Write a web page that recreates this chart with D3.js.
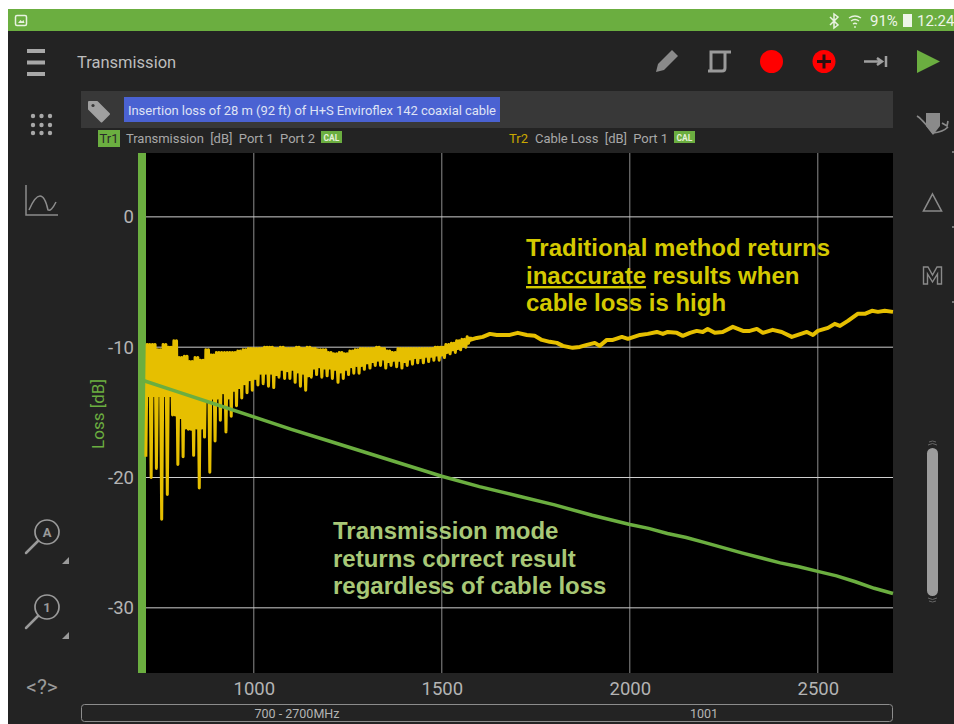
<!DOCTYPE html>
<html>
<head>
<meta charset="utf-8">
<script src="https://cdn.jsdelivr.net/npm/d3@7"></script>
<style>
html, body { margin: 0; padding: 0; background: #fff; overflow: hidden; }
svg { display: block; font-family: Roboto, sans-serif; }
.note { font-family: "Liberation Sans", Arial, sans-serif; font-weight: bold; font-size: 24px; }
</style>
</head>
<body>
<svg id="chart" width="954" height="724"></svg>
<script>
var xTicks = [1000, 1500, 2000, 2500];
var yTicks = [0, -10, -20, -30];

// Tr1, transmission
var transFreq = [700, 800, 900, 1000, 1100, 1200, 1300, 1400, 1500, 1600, 1700, 1800, 1900, 2000, 2050, 2100, 2150, 2200, 2300, 2400, 2450, 2500, 2550, 2600, 2650, 2700];
var transLoss = [-12.5, -13.45, -14.4, -15.35, -16.3, -17.2, -18.1, -19.0, -19.9, -20.7, -21.4, -22.1, -22.9, -23.6, -23.9, -24.3, -24.6, -25.0, -25.8, -26.55, -26.85, -27.2, -27.55, -28.0, -28.5, -28.9];

// Tr2, cable loss: low end read ripple by ripple
var rippleFreq = [713, 727, 741, 755, 770, 784, 798, 812, 826, 840, 855, 869, 883, 897, 911, 926, 940, 954, 968, 982, 996, 1011, 1025, 1039, 1053, 1067, 1082, 1096, 1110, 1124, 1138, 1153, 1167, 1181, 1195, 1209, 1224, 1238, 1252, 1266, 1280, 1294, 1309, 1323, 1337, 1351, 1365, 1380, 1394, 1408, 1422, 1436, 1451, 1465, 1479, 1493, 1507, 1522, 1536, 1550, 1564];
var rippleTop = [-9.8, -9.8, -10.2, -9.8, -10.0, -9.5, -10.8, -10.7, -11.1, -10.8, -11.0, -10.2, -10.6, -10.4, -10.4, -10.4, -10.4, -10.3, -10.2, -10.1, -10.1, -10.1, -10.0, -10.0, -10.1, -10.0, -10.1, -10.1, -10.0, -10.1, -10.0, -10.1, -10.2, -10.2, -10.4, -10.5, -10.4, -10.5, -10.3, -10.2, -10.1, -10.1, -10.1, -10.0, -10.1, -10.3, -10.4, -10.1, -10.1, -10.1, -10.1, -10.1, -10.1, -10.1, -10.0, -10.0, -9.8, -9.7, -9.5, -9.4, -9.2];
var rippleBody = [-13.7, -13.7, -13.7, -13.7, -13.7, -15.2, -15.4, -16.2, -16.3, -16.2, -16.2, -14.0, -13.9, -13.9, -13.5, -13.9, -13.3, -13.1, -12.8, -12.5, -12.4, -12.0, -12.0, -12.0, -12.1, -11.7, -11.8, -11.7, -11.9, -12.0, -12.2, -11.6, -11.5, -11.6, -11.6, -11.7, -11.9, -11.7, -11.5, -11.4, -11.4, -11.2, -11.1, -11.0, -10.9, -11.1, -11.0, -11.0, -11.1, -10.9, -10.8, -10.8, -10.7, -10.7, -10.6, -10.6, -10.4, -10.2, -10.1, -9.9, -9.7];
var rippleSpike = [-18.4, -20.0, -19.3, -23.2, -21.3, -15.2, -19.0, -18.4, -16.3, -18.3, -20.8, -16.9, -19.6, -17.2, -15.6, -16.5, -15.3, -14.5, -13.9, -13.5, -13.3, -12.9, -12.8, -13.0, -13.1, -12.3, -12.4, -12.4, -12.7, -13.0, -13.3, -12.3, -12.1, -12.3, -12.2, -12.4, -12.7, -12.4, -12.1, -12.0, -12.0, -11.7, -11.6, -11.4, -11.4, -11.6, -11.4, -11.5, -11.6, -11.4, -11.3, -11.2, -11.2, -11.1, -11.0, -11.0, -10.8, -10.5, -10.4, -10.2, -10.0];

// Tr2, upper part where the ripple is gone
var cableFreq = [1575, 1593, 1609, 1628, 1646, 1662, 1681, 1702, 1726, 1747, 1766, 1787, 1806, 1822, 1848, 1867, 1886, 1907, 1920, 1939, 1955, 1979, 1995, 2027, 2048, 2072, 2088, 2101, 2125, 2141, 2160, 2178, 2194, 2207, 2226, 2247, 2274, 2301, 2319, 2338, 2354, 2380, 2404, 2431, 2447, 2471, 2487, 2500, 2527, 2545, 2559, 2580, 2606, 2625, 2644, 2660, 2678, 2700];
var cableLoss = [-9.44, -9.29, -9.21, -8.98, -9.06, -9.06, -9.06, -8.9, -9.06, -9.13, -9.44, -9.59, -9.67, -9.9, -10.05, -9.98, -9.82, -9.67, -9.9, -9.44, -9.44, -9.21, -9.36, -9.06, -8.98, -8.83, -8.98, -8.83, -8.9, -9.13, -8.9, -8.75, -8.83, -8.6, -8.9, -8.83, -8.44, -8.75, -8.75, -8.6, -8.9, -8.67, -8.83, -9.21, -9.06, -8.83, -9.06, -8.75, -8.52, -8.21, -8.37, -7.98, -7.44, -7.44, -7.21, -7.29, -7.21, -7.29];

var svg = d3.select("#chart");
var grey = "#a8a8a8", dark = "#232323", green = "#6bae40", yellow = "#e6bf00";

var x = d3.scaleLinear().domain([700, 2700]).range([141, 893]);
var y = d3.scaleLinear().domain([4.9, -35]).range([153, 673]);

// app frame
svg.append("rect").attr("x", 8).attr("y", 9).attr("width", 946).attr("height", 715).attr("fill", dark);
svg.append("rect").attr("x", 8).attr("y", 9).attr("width", 946).attr("height", 22).attr("fill", green);
svg.append("rect").attr("x", 81).attr("y", 91).attr("width", 812).attr("height", 37).attr("fill", "#383838");
svg.append("rect").attr("x", 124).attr("y", 97).attr("width", 376).attr("height", 25).attr("fill", "#4a62d2");

function label(px, py, str, size, color, anchor) {
    return svg.append("text").attr("x", px).attr("y", py).attr("font-size", size)
        .attr("fill", color).attr("text-anchor", anchor || "start").text(str);
}

label(77, 67.5, "Transmission", 16.5, "#bdbdbd");
label(128, 115, "Insertion loss of 28 m (92 ft) of H+S Enviroflex 142 coaxial cable", 13, "#dfe3f5").attr("textLength", 368);

svg.append("rect").attr("x", 98).attr("y", 130).attr("width", 22).attr("height", 17).attr("fill", green);
label(109, 143, "Tr1", 13, "#2a2a2a", "middle");
label(126, 143, "Transmission  [dB]  Port 1  Port 2", 13, grey).attr("xml:space", "preserve").attr("textLength", 189);
label(509, 143, "Tr2", 13, "#c9a800");
label(535, 143, "Cable Loss  [dB]  Port 1", 13, grey).attr("xml:space", "preserve").attr("textLength", 133);

[321, 674].forEach(function(px) {
    svg.append("rect").attr("x", px).attr("y", 131).attr("width", 21).attr("height", 12).attr("fill", green);
    label(px + 10.5, 141, "CAL", 8.5, "#e4f0d8", "middle").attr("font-weight", "bold");
});

// status bar
svg.append("rect").attr("x", 15.5).attr("y", 15.5).attr("width", 11).attr("height", 10).attr("rx", 1.5)
    .attr("fill", green).attr("stroke", "#e8f2e0").attr("stroke-width", 1.5);
svg.append("path").attr("d", "M18 23l2.5-3 1.5 1.5 1.5-1.5 1 3z").attr("fill", "#e8f2e0");
svg.append("path").attr("d", "M830 17l8 8-4 3v-14l4 3-8 8").attr("fill", "none").attr("stroke", "#e8f2e0").attr("stroke-width", 1.5);
svg.append("path").attr("d", "M849 18q6-4 12 0M851 21q4-3 8 0M853 24q2-1.5 4 0M855 26v2").attr("fill", "none").attr("stroke", "#e8f2e0").attr("stroke-width", 1.3);
label(870, 26, "91%", 15, "#eef5e8");
svg.append("rect").attr("x", 903).attr("y", 14).attr("width", 9).attr("height", 13).attr("fill", "#eef5e8");
label(917, 26, "12:24", 15, "#eef5e8");

// toolbar
svg.append("path").attr("d", "M672 50l6 6-14 14-8 2 2-8z").attr("fill", "#8a8a8a");
svg.append("path").attr("d", "M708 71h14q3 0 3-3V52h6M711 71V52h14M725 52v3").attr("fill", "none").attr("stroke", "#9a9a9a").attr("stroke-width", 3);
svg.append("circle").attr("cx", 771.5).attr("cy", 61.5).attr("r", 11.5).attr("fill", "#ff0000");
svg.append("circle").attr("cx", 824).attr("cy", 61.5).attr("r", 11.5).attr("fill", "#ff0000");
svg.append("path").attr("d", "M817 61.5h14M824 54.5v14").attr("stroke", "#2a1010").attr("stroke-width", 3);
svg.append("path").attr("d", "M864 61.5h17M877 58l5 3.5-5 3.5M886 56v11").attr("fill", "none").attr("stroke", "#a0a0a0").attr("stroke-width", 2.5);
svg.append("path").attr("d", "M917 50L940 61.5L917 73z").attr("fill", green);

// left icons
[51, 62.5, 74].forEach(function(py) {
    svg.append("rect").attr("x", 27).attr("y", py - 2).attr("width", 18).attr("height", 4).attr("fill", grey);
});
[116, 125, 133].forEach(function(py) {
    [33, 41.5, 50].forEach(function(px) {
        svg.append("circle").attr("cx", px).attr("cy", py).attr("r", 2.2).attr("fill", grey);
    });
});
svg.append("path").attr("d", "M26 185V215H58M29 210q6-14 11-14t8 14q3 2 8-8").attr("fill", "none").attr("stroke", "#8c8c8c").attr("stroke-width", 1.5);

[["A", 532, 561], ["1", 607, 636]].forEach(function(d) {
    svg.append("circle").attr("cx", 47).attr("cy", d[1]).attr("r", 12).attr("fill", "none").attr("stroke", "#9a9a9a").attr("stroke-width", 1.7);
    svg.append("path").attr("d", "M38 " + (d[1] + 9) + "L26 " + (d[1] + 21)).attr("stroke", "#9a9a9a").attr("stroke-width", 2.5).attr("stroke-linecap", "round");
    label(47, d[1] + 5, d[0], 13, "#9a9a9a", "middle").attr("font-weight", "bold");
    svg.append("path").attr("d", "M62 " + (d[2] + 3) + "h7v-7z").attr("fill", "#9a9a9a");
});
label(42, 694, "<?>", 21, "#9a9a9a", "middle");

// tag icon
svg.append("path").attr("d", "M89 102h8l12 12-7.5 7.5-12.5-12.5z").attr("fill", "#a0a0a0").attr("stroke", "#a0a0a0").attr("stroke-linejoin", "round").attr("stroke-width", 2);
svg.append("circle").attr("cx", 93).attr("cy", 105.5).attr("r", 1.6).attr("fill", "#383838");

// right icons
svg.append("path").attr("d", "M926 113h14v13l-7 9-7-9z").attr("fill", "#8a8a8a");
svg.append("path").attr("d", "M917 116q4 2 16 17q10-1 15-6M942 123l5 3 1-5").attr("fill", "none").attr("stroke", "#8a8a8a").attr("stroke-width", 1.7);
svg.append("path").attr("d", "M932.5 194L941.5 211H923.5z").attr("fill", "none").attr("stroke", "#8a8a8a").attr("stroke-width", 1.6);
svg.append("path").attr("d", "M923.5 284V267H928L932.5 275L937 267H941.5V284H937.5V274L932.5 282L927.5 274V284Z").attr("fill", "none").attr("stroke", "#8a8a8a").attr("stroke-width", 1.4);
[151, 226, 301].forEach(function(py) {
    svg.append("rect").attr("x", 952).attr("y", py).attr("width", 2).attr("height", 2).attr("fill", "#777");
});
svg.append("rect").attr("x", 927).attr("y", 448).attr("width", 11).attr("height", 148).attr("rx", 5.5).attr("fill", "#9c9c9c");
svg.append("path").attr("d", "M928 445q4.5-3 9 0M929 442q3.5-2 7 0M928 598q4.5 3 9 0M929 601q3.5 2 7 0").attr("fill", "none").attr("stroke", "#666").attr("stroke-width", 1);

// plot
svg.append("rect").attr("x", 138).attr("y", 153).attr("width", 755).attr("height", 520).attr("fill", "#000");

svg.append("g").selectAll("line").data(xTicks).enter().append("line")
    .attr("x1", function(d) { return x(d); }).attr("x2", function(d) { return x(d); })
    .attr("y1", 153).attr("y2", 673).attr("stroke", "#8e8e8e").attr("stroke-width", 1);
svg.append("g").selectAll("line").data(yTicks).enter().append("line")
    .attr("x1", 143).attr("x2", 893)
    .attr("y1", function(d) { return y(d); }).attr("y2", function(d) { return y(d); })
    .attr("stroke", "#cfcfcf").attr("stroke-width", 1);

svg.append("rect").attr("x", 138).attr("y", 153).attr("width", 8).attr("height", 520).attr("fill", green);

var line = d3.line().x(function(d) { return x(d[0]); }).y(function(d) { return y(d[1]); });

// each ripple: spike, back up to the top, the filled body, top again
var ripplePts = [];
rippleFreq.forEach(function(f, i) {
    var step = i < rippleFreq.length - 1 ? rippleFreq[i + 1] - f : 14;
    ripplePts.push([f, rippleSpike[i]]);
    ripplePts.push([f + step * 0.25, rippleTop[i]]);
    ripplePts.push([f + step * 0.5, rippleBody[i]]);
    ripplePts.push([f + step * 0.75, rippleTop[i]]);
});
svg.append("path").attr("d", line(ripplePts)).attr("fill", "none")
    .attr("stroke", yellow).attr("stroke-width", 3).attr("stroke-linejoin", "round");

var cablePts = cableFreq.map(function(f, i) { return [f, cableLoss[i]]; });
svg.append("path").attr("d", line([ripplePts[ripplePts.length - 1]].concat(cablePts))).attr("fill", "none")
    .attr("stroke", yellow).attr("stroke-width", 4).attr("stroke-linejoin", "round");

var transPts = transFreq.map(function(f, i) { return [f, transLoss[i]]; });
svg.append("path").attr("d", line(transPts)).attr("fill", "none")
    .attr("stroke", green).attr("stroke-width", 3.5);

// axes, the app prints a plain hyphen for negatives
var yAxis = svg.append("g").attr("transform", "translate(138,0)")
    .call(d3.axisLeft(y).tickValues(yTicks).tickSize(0).tickPadding(4).tickFormat(String));
var xAxis = svg.append("g").attr("transform", "translate(0,673)")
    .call(d3.axisBottom(x).tickValues(xTicks).tickSize(0).tickFormat(String).tickPadding(9));
[yAxis, xAxis].forEach(function(a) {
    a.select(".domain").remove();
    a.selectAll("text").attr("fill", "#b4b4b4").attr("font-size", 18.5).attr("font-family", "Roboto, sans-serif");
});

svg.append("text").attr("transform", "translate(104,414) rotate(-90)").attr("text-anchor", "middle")
    .attr("font-size", 17).attr("fill", green).text("Loss [dB]");

// sweep bar
svg.append("rect").attr("x", 81.5).attr("y", 704.5).attr("width", 811).attr("height", 17).attr("rx", 3)
    .attr("fill", "none").attr("stroke", "#8c8c8c");
label(297, 718, "700 - 2700MHz", 12.5, "#b4b4b4", "middle");
label(704, 718, "1001", 12.5, "#b4b4b4", "middle");

// annotations
var noteY = "#d4c900", noteG = "#a8c877";
label(526, 256, "Traditional method returns", 24, noteY).attr("class", "note");
var n2 = label(526, 284, "", 24, noteY).attr("class", "note");
n2.append("tspan").attr("style", "text-decoration:underline").text("inaccurate");
n2.append("tspan").text(" results when");
label(526, 311, "cable loss is high", 24, noteY).attr("class", "note");
label(333, 539, "Transmission mode", 24, noteG).attr("class", "note");
label(333, 567, "returns correct result", 24, noteG).attr("class", "note");
label(333, 594, "regardless of cable loss", 24, noteG).attr("class", "note");
</script>
</body>
</html>
